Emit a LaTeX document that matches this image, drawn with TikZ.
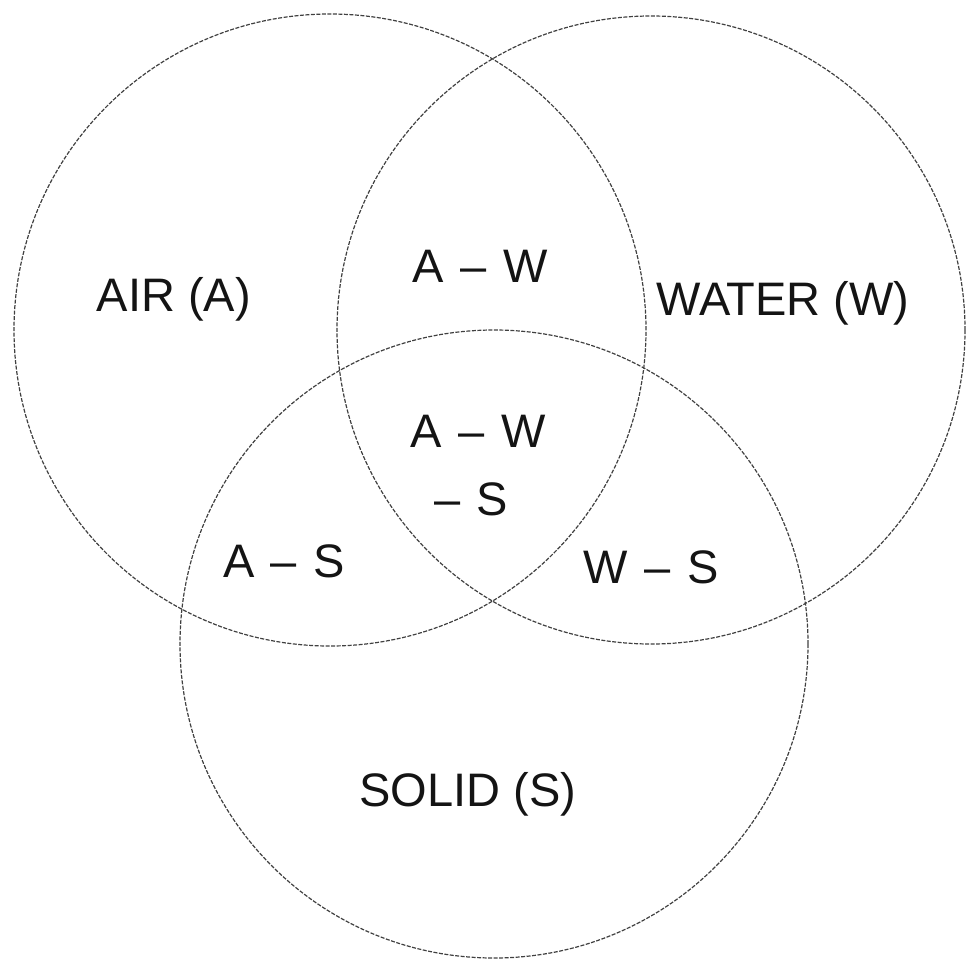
\documentclass[tikz,border=0pt]{standalone}
\usepackage{fontspec}
\setmainfont{Liberation Sans}
\newcommand{\ds}{\hspace{0.35em}–\hspace{0.35em}}
\begin{document}
\begin{tikzpicture}[x=1pt,y=-1pt,
  phase/.style={circle,draw=black!75,line width=1.2pt,
    dash pattern=on 4pt off 1.5pt,minimum size=#1,inner sep=0pt},
  lab/.style={anchor=base,inner sep=0pt,text=black!92,
    font=\fontsize{47}{52}\selectfont}]
  \useasboundingbox (0,0) rectangle (966,959);
  % the three phases
  \node[phase=632pt] (air)   at (330,330) {};
  \node[phase=628pt] (water) at (651,330) {};
  \node[phase=628pt] (solid) at (494,644) {};
  % labels of the regions
  \node[lab] (lA)   at (174,311) {AIR (A)};
  \node[lab] (lW)   at (783,315) {WATER (W)};
  \node[lab] (lAW)  at (480,282) {A\ds W};
  \node[lab] (lAWS) at (478,447) {A\ds W};
  \node[lab] (lS2)  at (471,515) {–\hspace{0.35em}S};
  \node[lab] (lAS)  at (284,577) {A\ds S};
  \node[lab] (lWS)  at (651,583) {W\ds S};
  \node[lab] (lS)   at (468,806) {SOLID (S)};
\end{tikzpicture}
\end{document}
